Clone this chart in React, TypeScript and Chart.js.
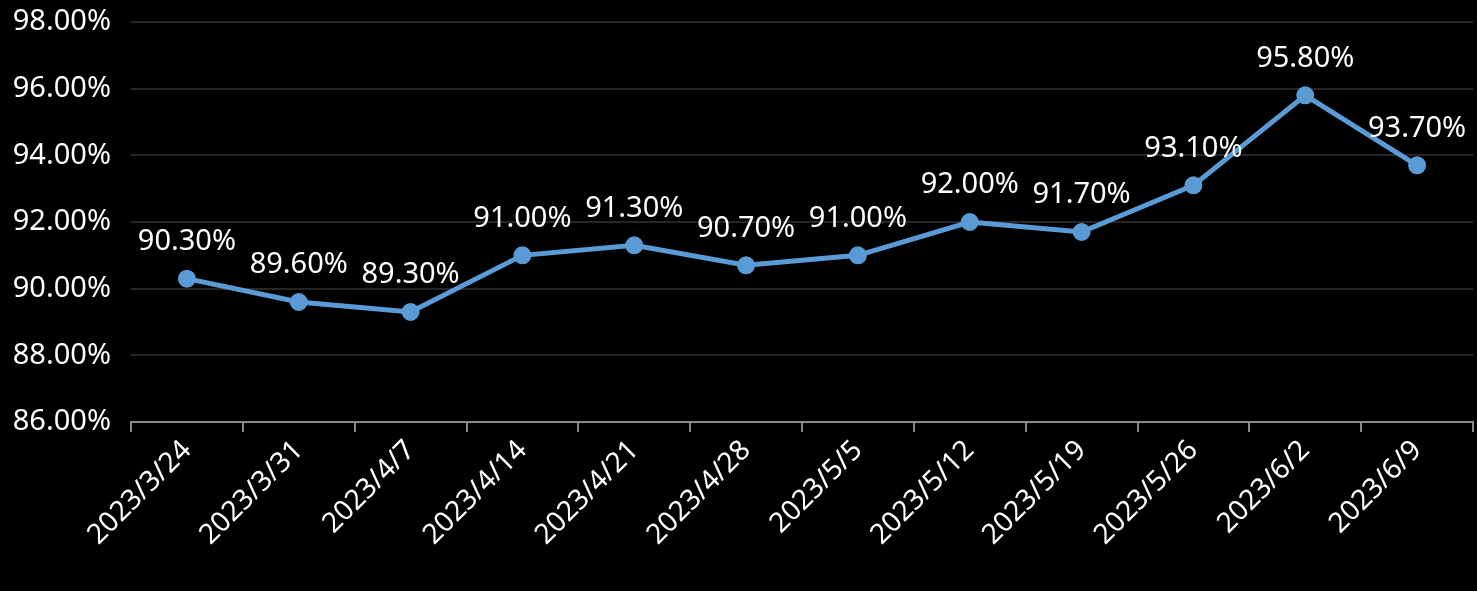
import React, { useEffect, useRef } from "react";
import { Chart, registerables } from "chart.js";

Chart.register(...registerables);

const categories = [
  "2023/3/24", "2023/3/31", "2023/4/7", "2023/4/14", "2023/4/21", "2023/4/28",
  "2023/5/5", "2023/5/12", "2023/5/19", "2023/5/26", "2023/6/2", "2023/6/9",
];
const values = [90.3, 89.6, 89.3, 91.0, 91.3, 90.7, 91.0, 92.0, 91.7, 93.1, 95.8, 93.7];
const yMin = 86;
const yMax = 98;
const yStep = 2;

const FONT = "'Noto Sans', 'Open Sans', sans-serif";

const labelPlugin = {
  id: "pointLabels",
  afterDatasetsDraw(chart: any) {
    const ctx = chart.ctx;
    const meta = chart.getDatasetMeta(0);
    ctx.save();
    ctx.font = `29px ${FONT}`;
    ctx.fillStyle = "#ffffff";
    ctx.textAlign = "center";
    ctx.textBaseline = "middle";
    meta.data.forEach((pt: any, i: number) => {
      const text = values[i].toFixed(2) + "%";
      let x = pt.x;
      const w = ctx.measureText(text).width;
      const maxX = chart.width - 8 - w / 2;
      if (x > maxX) x = maxX;
      ctx.fillText(text, x, pt.y - 37);
    });
    ctx.restore();
  },
};

export default function App() {
  const ref = useRef<HTMLCanvasElement>(null);
  useEffect(() => {
    document.body.style.margin = "0";
    document.body.style.background = "#000";
    const chart = new Chart(ref.current as HTMLCanvasElement, {
      type: "line",
      data: {
        labels: categories,
        datasets: [
          {
            data: values,
            borderColor: "#5B9BD5",
            backgroundColor: "#5B9BD5",
            borderWidth: 5,
            pointRadius: 6.5,
            pointBackgroundColor: "#5B9BD5",
            pointBorderColor: "#5B9BD5",
            tension: 0,
          },
        ],
      },
      options: {
        animation: false,
        responsive: false,
        maintainAspectRatio: false,
        layout: { autoPadding: false, padding: { top: 22, right: 4, left: 0, bottom: 0 } },
        plugins: { legend: { display: false }, tooltip: { enabled: false } },
        scales: {
          x: {
            offset: true,
            grid: {
              display: true,
              drawOnChartArea: false,
              drawTicks: true,
              tickLength: 10,
              color: "#898989",
              lineWidth: 2,
              offset: true,
            },
            border: { display: true, color: "#898989", width: 2 },
            ticks: {
              color: "#ffffff",
              font: { family: FONT, size: 28 },
              minRotation: 45,
              maxRotation: 45,
              autoSkip: false,
              padding: 2,
            },
            afterFit(scale: any) {
              scale.height = 169;
              scale.paddingRight = 0;
              scale.paddingLeft = 0;
            },
          },
          y: {
            min: yMin,
            max: yMax,
            grid: { color: "#262626", lineWidth: 2, drawTicks: false },
            border: { display: false },
            ticks: {
              stepSize: yStep,
              color: "#ffffff",
              font: { family: FONT, size: 29 },
              padding: 20,
              callback: (v: any) => Number(v).toFixed(2) + "%",
            },
            afterFit(scale: any) {
              scale.width = 131;
              scale.paddingTop = 0;
              scale.paddingBottom = 0;
            },
          },
        },
      },
      plugins: [labelPlugin],
    });
    return () => chart.destroy();
  }, []);
  return (
    <div style={{ position: "absolute", left: 0, top: 0, width: 1477, height: 591, background: "#000" }}>
      <canvas ref={ref} width={1477} height={591} style={{ width: 1477, height: 591 }} />
    </div>
  );
}
